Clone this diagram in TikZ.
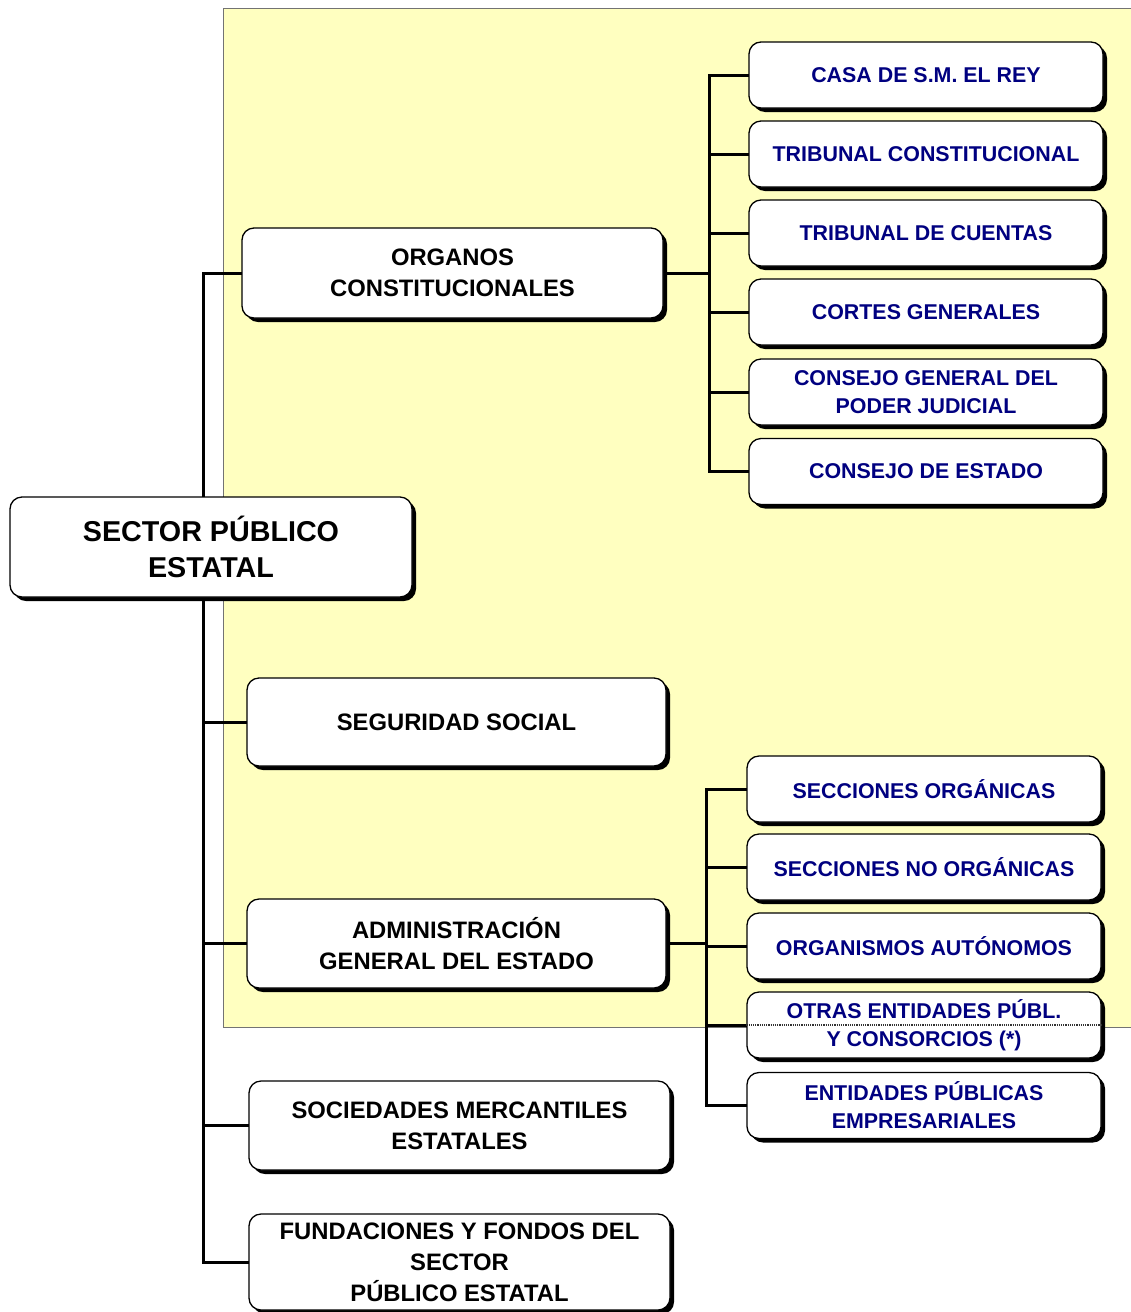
\documentclass[tikz,border=0pt]{standalone}
\usepackage{fontspec}
\setmainfont{Liberation Sans}
\usetikzlibrary{shadows}
\definecolor{bgyellow}{RGB}{255,255,192}
\definecolor{navytext}{RGB}{0,0,128}
\pgfdeclarelayer{bgl}
\pgfdeclarelayer{lines}
\pgfsetlayers{bgl,lines,main}
\tikzset{
  box/.style={draw=black, line width=1.3pt, fill=white, rounded corners=12pt,
    align=center, inner sep=0pt, font=\bfseries,
    drop shadow={shadow xshift=4pt, shadow yshift=-4pt, opacity=1, fill=black}},
  leftbox/.style={box, font=\bfseries\fontsize{23.8}{31}\selectfont},
  rightbox/.style={box, text=navytext, minimum width=354pt, minimum height=66pt,
    font=\bfseries\fontsize{21.4}{28}\selectfont},
  conn/.style={line width=3pt, line cap=rect},
}
\begin{document}
\begin{tikzpicture}[x=1pt, y=-1pt]
\useasboundingbox (0,0) rectangle (1130,1312);

% yellow background
\begin{pgfonlayer}{bgl}
\fill[white] (0,0) rectangle (1130,1312);
\draw[fill=bgyellow, draw=black!55, line width=1pt] (223,8) rectangle (1140,1027);
\end{pgfonlayer}

% left column
\node[leftbox, minimum width=402pt, minimum height=100pt, font=\bfseries\fontsize{28.7}{36}\selectfont] (sector) at (211,547) {SECTOR PÚBLICO\\ESTATAL};
\node[leftbox, minimum width=421pt, minimum height=90pt] (org) at (452.5,273) {ORGANOS\\CONSTITUCIONALES};
\node[leftbox, minimum width=419pt, minimum height=88pt] (seg) at (456.5,722) {SEGURIDAD SOCIAL};
\node[leftbox, minimum width=419pt, minimum height=89pt] (admin) at (456.5,943.5) {ADMINISTRACIÓN\\GENERAL DEL ESTADO};
\node[leftbox, minimum width=421pt, minimum height=89pt] (soc) at (459.5,1125.5) {SOCIEDADES MERCANTILES\\ESTATALES};
\node[leftbox, minimum width=421pt, minimum height=96pt] (fund) at (459.5,1262) {FUNDACIONES Y FONDOS DEL\\SECTOR\\PÚBLICO ESTATAL};

% right column, upper group
\node[rightbox] (casa) at (926,75) {CASA DE S.M. EL REY};
\node[rightbox] (tcons) at (926,154) {TRIBUNAL CONSTITUCIONAL};
\node[rightbox] (tcuen) at (926,233) {TRIBUNAL DE CUENTAS};
\node[rightbox] (cortes) at (926,312) {CORTES GENERALES};
\node[rightbox] (cgpj) at (926,392) {CONSEJO GENERAL DEL\\PODER JUDICIAL};
\node[rightbox] (cest) at (926,471.5) {CONSEJO DE ESTADO};

% right column, lower group
\node[rightbox] (secorg) at (924,789) {SECCIONES ORGÁNICAS};
\node[rightbox] (secno) at (924,867) {SECCIONES NO ORGÁNICAS};
\node[rightbox] (orgaut) at (924,946) {ORGANISMOS AUTÓNOMOS};
\node[rightbox] (otras) at (924,1025) {OTRAS ENTIDADES PÚBL.\\Y CONSORCIOS (*)};
\node[rightbox] (epe) at (924,1105.5) {ENTIDADES PÚBLICAS\\EMPRESARIALES};

% dotted edge of background seen through the box
\draw[densely dotted, line width=1.2pt, black!80] (otras.west) -- (otras.east);

% spines
\coordinate (spL) at (203,0);
\coordinate (spU) at (709,0);
\coordinate (spA) at (706,0);

\begin{pgfonlayer}{lines}
\draw[conn] (org.west -| spL) -- (fund.west -| spL);
\foreach \n in {org,seg,admin,soc,fund}
  \draw[conn] (\n.west -| spL) -- (\n.west);

\draw[conn] (org.east) -- (org.east -| spU);
\draw[conn] (casa.west -| spU) -- (cest.west -| spU);
\foreach \n in {casa,tcons,tcuen,cortes,cgpj,cest}
  \draw[conn] (\n.west -| spU) -- (\n.west);

\draw[conn] (admin.east) -- (admin.east -| spA);
\draw[conn] (secorg.west -| spA) -- (epe.west -| spA);
\foreach \n in {secorg,secno,orgaut,otras,epe}
  \draw[conn] (\n.west -| spA) -- (\n.west);
\end{pgfonlayer}
\end{tikzpicture}
\end{document}
